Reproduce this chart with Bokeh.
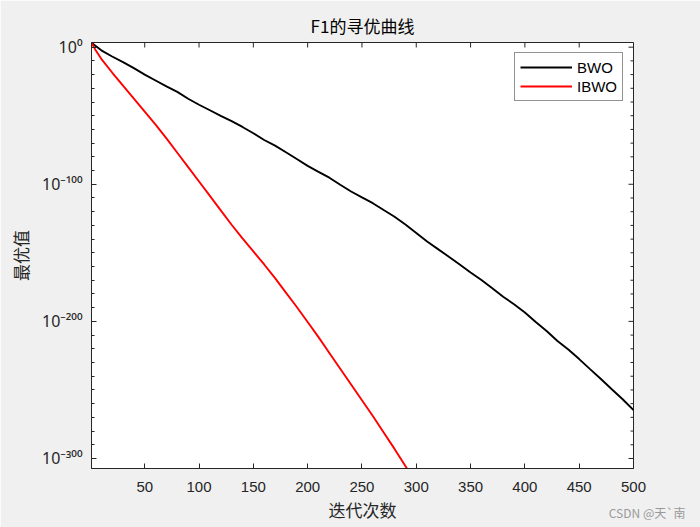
import math
from bokeh.plotting import figure
from bokeh.models import Range1d, FixedTicker, Title, Legend, LegendItem
from bokeh.embed import file_html
from bokeh.resources import INLINE

# ---- data: log10 of the best fitness value ----
bwo_iter = [1, 10, 20, 30, 40, 50, 60, 70, 80, 90, 100, 110, 120, 130, 140, 150, 160, 170,
            180, 190, 200, 210, 220, 230, 240, 250, 260, 270, 280, 290, 300, 310, 320, 330,
            340, 350, 360, 370, 380, 390, 400, 410, 420, 430, 440, 450, 460, 470, 480, 490, 500]
bwo_log = [3.2, -2.3, -6.8, -10.9, -15.3, -20.0, -24.3, -28.6, -32.6, -37.6, -42.0, -46.0,
           -50.1, -54.0, -58.2, -62.8, -67.7, -71.8, -76.6, -81.6, -86.6, -90.9, -95.2,
           -100.3, -105.3, -109.6, -113.8, -118.8, -123.7, -129.4, -135.5, -141.8, -147.3,
           -152.8, -158.5, -164.3, -169.8, -175.8, -182.0, -187.5, -193.5, -200.5, -207.0,
           -214.3, -220.5, -227.5, -234.8, -242.0, -249.5, -256.8, -264.7]

ibwo_iter = [1, 5, 10, 20, 30, 40, 50, 60, 70, 80, 90, 100, 110, 120, 130, 140, 150, 160,
             170, 180, 190, 200, 210, 220, 230, 240, 250, 260, 270, 280, 290, 292]
ibwo_log = [3.2, -2.5, -8.5, -18.5, -28.0, -37.5, -47.0, -56.5, -66.5, -77.0, -87.5, -98.0,
            -108.5, -119.0, -129.5, -139.5, -149.0, -158.5, -168.5, -179.0, -189.5, -200.5,
            -211.5, -223.0, -234.5, -246.0, -257.5, -269.0, -281.0, -293.0, -305.5, -308.0]

x_ticks = [50, 100, 150, 200, 250, 300, 350, 400, 450, 500]
y_ticks = [-300, -200, -100, 0]
y_tick_labels = ["10⁻³⁰⁰", "10⁻²⁰⁰", "10⁻¹⁰⁰", "10⁰"]
y_minor = [t for t in range(-300, 1, 10) if t not in y_ticks]

title_text = "F1的寻优曲线"
x_label = "迭代次数"
y_label = "最优值"
series_names = ["BWO", "IBWO"]
watermark = "CSDN @天`南"

X_MIN, X_MAX = 1, 500
Y_MIN, Y_MAX = -307.3, 3.4

AX = "#262626"
LAT = "Liberation Sans"
CJK = "Noto Sans CJK SC"

p = figure(width=700, height=527, output_backend="svg", toolbar_location=None,
           x_range=Range1d(X_MIN, X_MAX), y_range=Range1d(Y_MIN, Y_MAX),
           background_fill_color="white", border_fill_color="#f0f0f0",
           min_border_left=91, min_border_right=67, min_border_top=42, min_border_bottom=59)
p.outline_line_color = AX
p.xgrid.visible = False
p.ygrid.visible = False

p.title.text = title_text
p.title.align = "center"
p.title.text_font = CJK
p.title.text_font_size = "17px"
p.title.text_font_style = "normal"
p.title.text_color = "#000000"
p.title.standoff = 9

r1 = p.line(bwo_iter, bwo_log, line_color="black", line_width=1.9)
r2 = p.line(ibwo_iter, ibwo_log, line_color="red", line_width=1.9)

def style_axis(ax):
    ax.axis_line_color = AX
    ax.major_tick_line_color = AX
    ax.minor_tick_line_color = AX
    ax.major_tick_in = 5
    ax.major_tick_out = 0
    ax.minor_tick_in = 3
    ax.minor_tick_out = 0

xa = p.xaxis[0]
xa.ticker = FixedTicker(ticks=x_ticks)
style_axis(xa)
xa.major_label_text_font = LAT
xa.major_label_text_font_size = "15px"
xa.major_label_text_color = AX
xa.major_label_standoff = 13
xa.axis_label = x_label
xa.axis_label_text_font = CJK
xa.axis_label_text_font_size = "17px"
xa.axis_label_text_font_style = "normal"
xa.axis_label_text_color = AX
xa.axis_label_standoff = 2

ya = p.yaxis[0]
ya.ticker = FixedTicker(ticks=y_ticks, minor_ticks=y_minor)
style_axis(ya)
ya.major_label_overrides = {t: s for t, s in zip(y_ticks, y_tick_labels)}
ya.major_label_text_font = "Noto Sans"
ya.major_label_text_font_size = "16px"
ya.major_label_text_color = AX
ya.major_label_standoff = 9
ya.axis_label = y_label
ya.axis_label_text_font = CJK
ya.axis_label_text_font_size = "17px"
ya.axis_label_text_font_style = "normal"
ya.axis_label_text_color = AX
ya.axis_label_standoff = 6

# inward tick marks on the top and right edges of the box (half clipped by the frame)
p.scatter(x_ticks, [Y_MAX] * len(x_ticks), marker="dash", angle=math.pi / 2, size=10,
          line_color=AX, line_width=1)
p.scatter([X_MAX] * len(y_ticks), y_ticks, marker="dash", size=10,
          line_color=AX, line_width=1)
p.scatter([X_MAX] * len(y_minor), y_minor, marker="dash", size=6,
          line_color=AX, line_width=1)

legend = Legend(items=[LegendItem(label=series_names[0], renderers=[r1]),
                       LegendItem(label=series_names[1], renderers=[r2])],
                location="top_right")
legend.border_line_color = AX
legend.background_fill_color = "white"
legend.background_fill_alpha = 1
legend.label_text_font = LAT
legend.label_text_font_size = "15px"
legend.label_text_color = "#000000"
legend.glyph_width = 52
legend.glyph_height = 18
legend.label_height = 18
legend.label_standoff = 5
legend.spacing = 1
legend.padding = 5
legend.margin = 10
p.add_layout(legend)

wm = Title(text=watermark, align="right", vertical_align="top", text_font=CJK,
           text_font_size="12px", text_font_style="normal", text_color="#9a9a9a",
           standoff=-42, offset=-52)
p.add_layout(wm, "below")

open("out.html", "w").write(file_html(p, INLINE))
